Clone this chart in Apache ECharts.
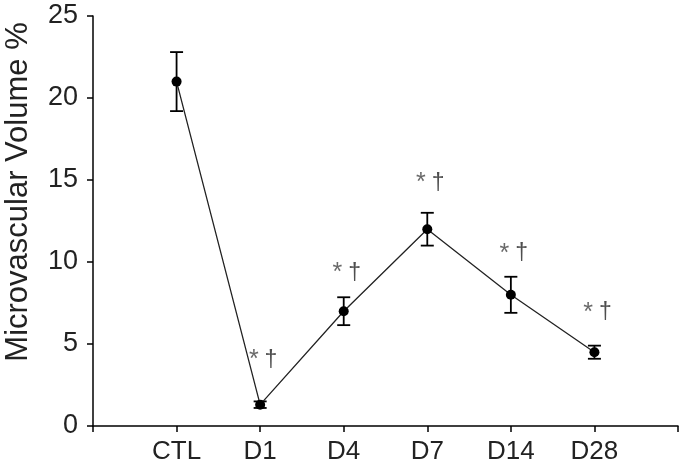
<!DOCTYPE html>
<html>
<head>
<meta charset="utf-8">
<script src="https://cdn.jsdelivr.net/npm/echarts@6/dist/echarts.min.js"></script>
<style>
  html, body { margin: 0; padding: 0; background: #fff; }
  #chart { width: 685px; height: 468px; }
</style>
</head>
<body>
<div id="chart"></div>
<script>
// data
var categories = ['CTL', 'D1', 'D4', 'D7', 'D14', 'D28'];
var meanVals = [21.0, 1.3, 7.0, 12.0, 8.0, 4.5];
var errVals = [1.8, 0.2, 0.85, 1.0, 1.1, 0.4];
// height of the "* †" marks (none on CTL)
var markY = [null, 4.0, 9.3, 14.8, 10.5, 6.9];
var yTicks = [0, 5, 10, 15, 20, 25];

var font = 'Liberation Sans, Arial, sans-serif';

var lineData = meanVals.map(function (v, i) { return [i + 1, v]; });
var errData = meanVals.map(function (v, i) { return [i + 1, v - errVals[i], v + errVals[i]]; });
var markData = [];
markY.forEach(function (v, i) { if (v != null) markData.push([i + 1, v]); });

var chart = echarts.init(document.getElementById('chart'));

chart.setOption({
  animation: false,
  grid: { left: 93, top: 16, right: 7, bottom: 42 },
  xAxis: {
    type: 'value',
    min: 0,
    max: categories.length + 1,
    interval: 1,
    splitLine: { show: false },
    axisLine: { lineStyle: { color: '#000', width: 1.5 } },
    axisTick: { length: 6, lineStyle: { color: '#000', width: 1.5 } },
    axisLabel: {
      color: '#222',
      fontFamily: font,
      fontSize: 26,
      margin: 13,
      formatter: function (v) { return categories[v - 1] || ''; }
    }
  },
  yAxis: {
    type: 'value',
    min: yTicks[0],
    max: yTicks[yTicks.length - 1],
    interval: 5,
    splitLine: { show: false },
    axisLine: { show: true, lineStyle: { color: '#000', width: 1.5 } },
    axisTick: { show: true, length: 6, lineStyle: { color: '#000', width: 1.5 } },
    axisLabel: { color: '#222', fontFamily: font, fontSize: 27, margin: 15 }
  },
  graphic: [{
    type: 'text',
    x: 18,
    y: 192,
    rotation: Math.PI / 2,
    style: {
      text: 'Microvascular Volume %',
      fill: '#222',
      font: '31px ' + font,
      align: 'center',
      verticalAlign: 'middle'
    }
  }],
  series: [
    {
      // error bars
      type: 'custom',
      data: errData,
      z: 3,
      renderItem: function (params, api) {
        var lo = api.coord([api.value(0), api.value(1)]);
        var hi = api.coord([api.value(0), api.value(2)]);
        var w = 6.5;
        var st = { stroke: '#000', lineWidth: 1.8 };
        return {
          type: 'group',
          children: [
            { type: 'line', shape: { x1: lo[0], y1: lo[1], x2: hi[0], y2: hi[1] }, style: st },
            { type: 'line', shape: { x1: lo[0] - w, y1: lo[1], x2: lo[0] + w, y2: lo[1] }, style: st },
            { type: 'line', shape: { x1: hi[0] - w, y1: hi[1], x2: hi[0] + w, y2: hi[1] }, style: st }
          ]
        };
      }
    },
    {
      type: 'line',
      data: lineData,
      z: 4,
      symbol: 'circle',
      symbolSize: 10,
      itemStyle: { color: '#000' },
      lineStyle: { color: '#222', width: 1.3 }
    },
    {
      // significance marks
      type: 'scatter',
      data: markData,
      symbolSize: 0,
      label: {
        show: true,
        position: 'inside',
        offset: [3, 0],
        formatter: '{a|*}{b|†}',
        rich: {
          a: { color: '#444', fontFamily: font, fontSize: 25, padding: [0, 6, 0, 0] },
          b: { color: '#222', fontFamily: font, fontSize: 23 }
        }
      }
    }
  ]
});
</script>
</body>
</html>
